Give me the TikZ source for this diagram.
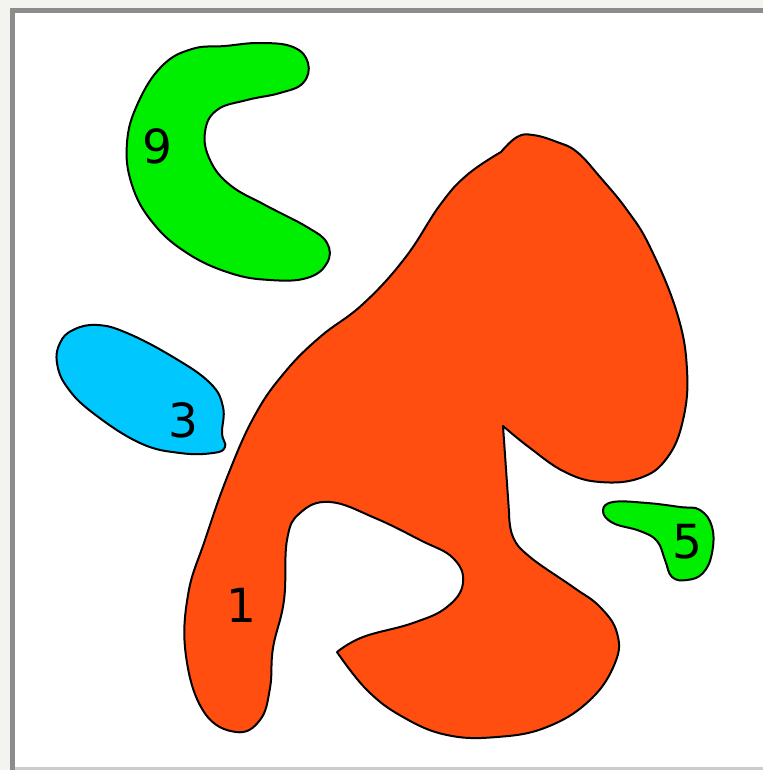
\documentclass[tikz,border=0pt]{standalone}
\usepackage{fontspec}
\setmainfont{DejaVu Sans}
\begin{document}
\begin{tikzpicture}[x=1pt,y=-1pt,
  blob/.style={draw=black,line width=2pt,line join=round},
  lbl/.style={font=\fontsize{47}{47}\selectfont,inner sep=0pt}]
\definecolor{bgc}{HTML}{F3F3EF}
\definecolor{framec}{HTML}{8C8C8C}
\definecolor{orng}{HTML}{FF4E10}
\definecolor{grn}{HTML}{00EE00}
\definecolor{blu}{HTML}{00C8FF}
\useasboundingbox (0,0) rectangle (763,770);
\fill[bgc] (0,0) rectangle (763,770);
\fill[white] (15,13) rectangle (763,767);
\fill[framec] (10,8) rectangle (763,13);
\fill[framec] (10,8) rectangle (15,770);
\fill[black!20] (15,767) rectangle (763,770);
% shape 9
\path[blob,fill=grn] plot[smooth cycle,tension=0.7] coordinates {
 (192,49) (225,46) (260,43) (293,47) (308,63) (303,83) (280,93) (247,100)
 (217,110) (205,132) (210,160) (230,185) (265,205) (307,227) (327,243)
 (327,263) (307,278) (270,280) (230,273) (187,253) (153,223) (132,185)
 (127,143) (138,103) (162,66)};
\node[lbl] (n9) at (157,146) {9};
% shape 3
\path[blob,fill=blu] plot[smooth cycle,tension=0.7] coordinates {
 (60,343) (73,330) (97,325) (127,333) (173,357) (210,383) (223,407)
 (222,433) (225,447) (213,453) (180,453) (140,443) (93,413) (67,387) (57,363)};
\node[lbl] (n3) at (183,420) {3};
% shape 5
\path[blob,fill=grn] plot[smooth cycle,tension=0.7] coordinates {
 (603,511) (613,502) (647,503) (680,507) (700,510) (712,527) (712,553)
 (703,573) (687,580) (672,577) (665,560) (657,541) (640,531) (613,523)};
\node[lbl] (n5) at (687,542) {5};
% shape 1
\path[blob,fill=orng] (503,426) -- plot[smooth,tension=0.7] coordinates {
 (509,512) (513,537) (530,557) (573,587) (600,607) (617,633)
 (615,663) (590,700) (547,727) (497,737) (447,735) (403,717) (367,690)
 (337,652)}
 -- plot[smooth,tension=0.7] coordinates {
 (337,652) (363,637) (413,623) (447,607) (463,583) (453,558) (420,540)
 (375,518) (330,502) (300,513) (287,540) (284,600) (273,648) (270,688)
 (260,720) (236,732) (204,712) (186,656) (188,595) (205,540) (228,475)
 (255,415) (285,372) (320,337) (363,304) (405,258) (440,205) (467,175)
 (501,152)}
 -- plot[smooth,tension=0.7] coordinates {(501,152)
 (517,137) (533,135) (557,142) (577,152) (600,177) (627,210) (650,247)
 (677,313) (687,370) (683,420) (667,458) (640,478) (600,482) (565,472)
 (530,448) (503,426)} -- cycle;
\node[lbl] (n1) at (241,605) {1};
\end{tikzpicture}
\end{document}
